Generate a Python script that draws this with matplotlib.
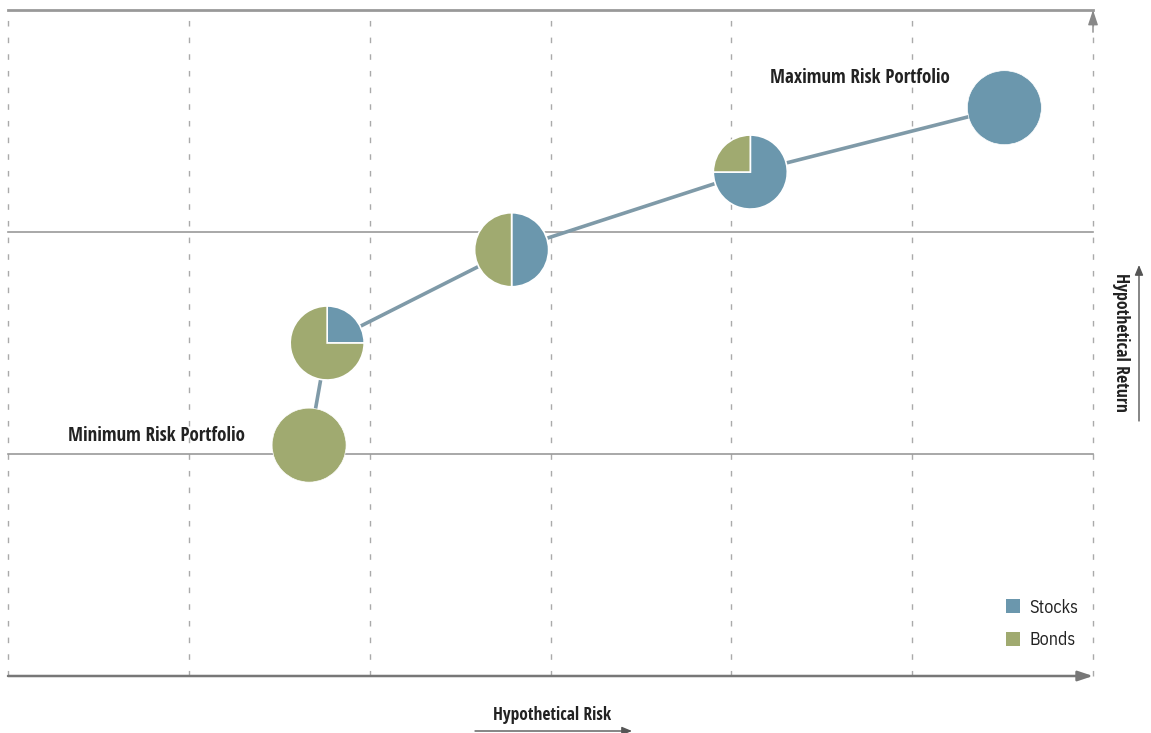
import matplotlib
matplotlib.use("Agg")
import matplotlib.pyplot as plt
from matplotlib.patches import Patch, FancyArrowPatch

# ---- data ----
portfolios = ["Minimum Risk Portfolio", "P2", "P3", "P4", "Maximum Risk Portfolio"]
risk = [1.665, 1.765, 2.785, 4.105, 5.51]
ret = [1.04, 1.50, 1.92, 2.27, 2.56]
stocks_pct = [0, 25, 50, 75, 100]
bonds_pct = [100, 75, 50, 25, 0]
series = ["Stocks", "Bonds"]
colors = {"Stocks": "#6b97ad", "Bonds": "#a0aa70"}
x_grid = [0, 1, 2, 3, 4, 5, 6]
y_grid = [1, 2]
x_title = "Hypothetical Risk"
y_title = "Hypothetical Return"

BOLD = ["Open Sans Condensed", "IBM Plex Sans Condensed", "DejaVu Sans"]
REG = ["IBM Plex Sans Condensed", "DejaVu Sans"]
plt.rcParams["font.family"] = REG

W, H = 1151, 733
fig = plt.figure(figsize=(W / 100, H / 100), dpi=100)
fig.patch.set_facecolor("white")
ax = fig.add_axes([8 / W, (H - 676) / H, 1085 / W, 666 / H])
ax.set_xlim(0, 6)
ax.set_ylim(0, 3)
ax.axis("off")

# vertical dashed grid
for xv in x_grid:
    ax.plot([xv, xv], [0, 3], color="#aaaaaa", lw=1.0, ls=(0, (4, 8)), zorder=1, clip_on=False)
# horizontal lines
for yv in y_grid:
    ax.plot([0, 6], [yv, yv], color="#999999", lw=1.2, zorder=1, clip_on=False)
ax.plot([0, 6], [3, 3], color="#999999", lw=2.0, zorder=1, clip_on=False)
# bottom axis with arrow
ax.annotate("", xy=(6, 0), xytext=(0, 0), xycoords="data",
            arrowprops=dict(arrowstyle="-|>,head_length=0.9,head_width=0.3", color="#777777", lw=1.8,
                            shrinkA=0, shrinkB=0), zorder=2, annotation_clip=False)
# right arrow at top
ax.annotate("", xy=(6, 3), xytext=(6, 2.9), xycoords="data",
            arrowprops=dict(arrowstyle="-|>,head_length=0.9,head_width=0.3", color="#888888", lw=1.0,
                            shrinkA=0, shrinkB=0), zorder=2, annotation_clip=False)

# connecting line
ax.plot(risk, ret, color="#7f9aa8", lw=2.6, zorder=3, solid_capstyle="butt")

# pies
fig.canvas.draw()
R = 37.0
for xi, yi, s, b in zip(risk, ret, stocks_pct, bonds_pct):
    px, py = ax.transData.transform((xi, yi))
    pax = fig.add_axes([(px - R) / W, (py - R) / H, 2 * R / W, 2 * R / H])
    vals, cols = [], []
    for name, v in (("Stocks", s), ("Bonds", b)):
        if v > 0:
            vals.append(v)
            cols.append(colors[name])
    pax.pie(vals, colors=cols, startangle=90, counterclock=False, radius=1.0,
            wedgeprops=dict(edgecolor="white", linewidth=1.2 if len(vals) > 1 else 0.5))
    pax.set_xlim(-1.0, 1.0)
    pax.set_ylim(-1.0, 1.0)
    pax.set_aspect("equal")
    pax.axis("off")

# labels
fig.text(68 / W, 1 - 441 / H, portfolios[0], fontsize=13.7, fontweight="bold", color="#222222",
         ha="left", va="baseline", family=BOLD)
fig.text(770 / W, 1 - 83 / H, portfolios[-1], fontsize=13.7, fontweight="bold", color="#222222",
         ha="left", va="baseline", family=BOLD)

# axis titles
fig.text(552 / W, 1 - 715 / H, x_title, fontsize=12.5, fontweight="bold", color="#222222",
         ha="center", va="center", family=BOLD)
fig.add_artist(FancyArrowPatch((475 / W, 1 - 731 / H), (632 / W, 1 - 731 / H),
               transform=fig.transFigure, arrowstyle="-|>,head_length=6,head_width=2.5",
               color="#555555", lw=1.0, shrinkA=0, shrinkB=0))
fig.text(1121 / W, 1 - 342 / H, y_title, fontsize=12.8, fontweight="bold", color="#222222",
         ha="center", va="center", rotation=270, family=BOLD)
fig.add_artist(FancyArrowPatch((1139 / W, 1 - 421 / H), (1139 / W, 1 - 265 / H),
               transform=fig.transFigure, arrowstyle="-|>,head_length=6,head_width=2.5",
               color="#555555", lw=1.0, shrinkA=0, shrinkB=0))

# legend
handles = [Patch(facecolor=colors[s], edgecolor="none", label=s) for s in series]
fig.legend(handles=handles, loc="upper left", bbox_to_anchor=(993 / W, 1 - 586 / H),
           frameon=False, fontsize=13, handlelength=0.8, handleheight=0.8,
           handletextpad=0.5, labelspacing=0.8, borderpad=0.2, labelcolor="#222222")

fig.savefig("out.png", dpi=100, facecolor="white")
